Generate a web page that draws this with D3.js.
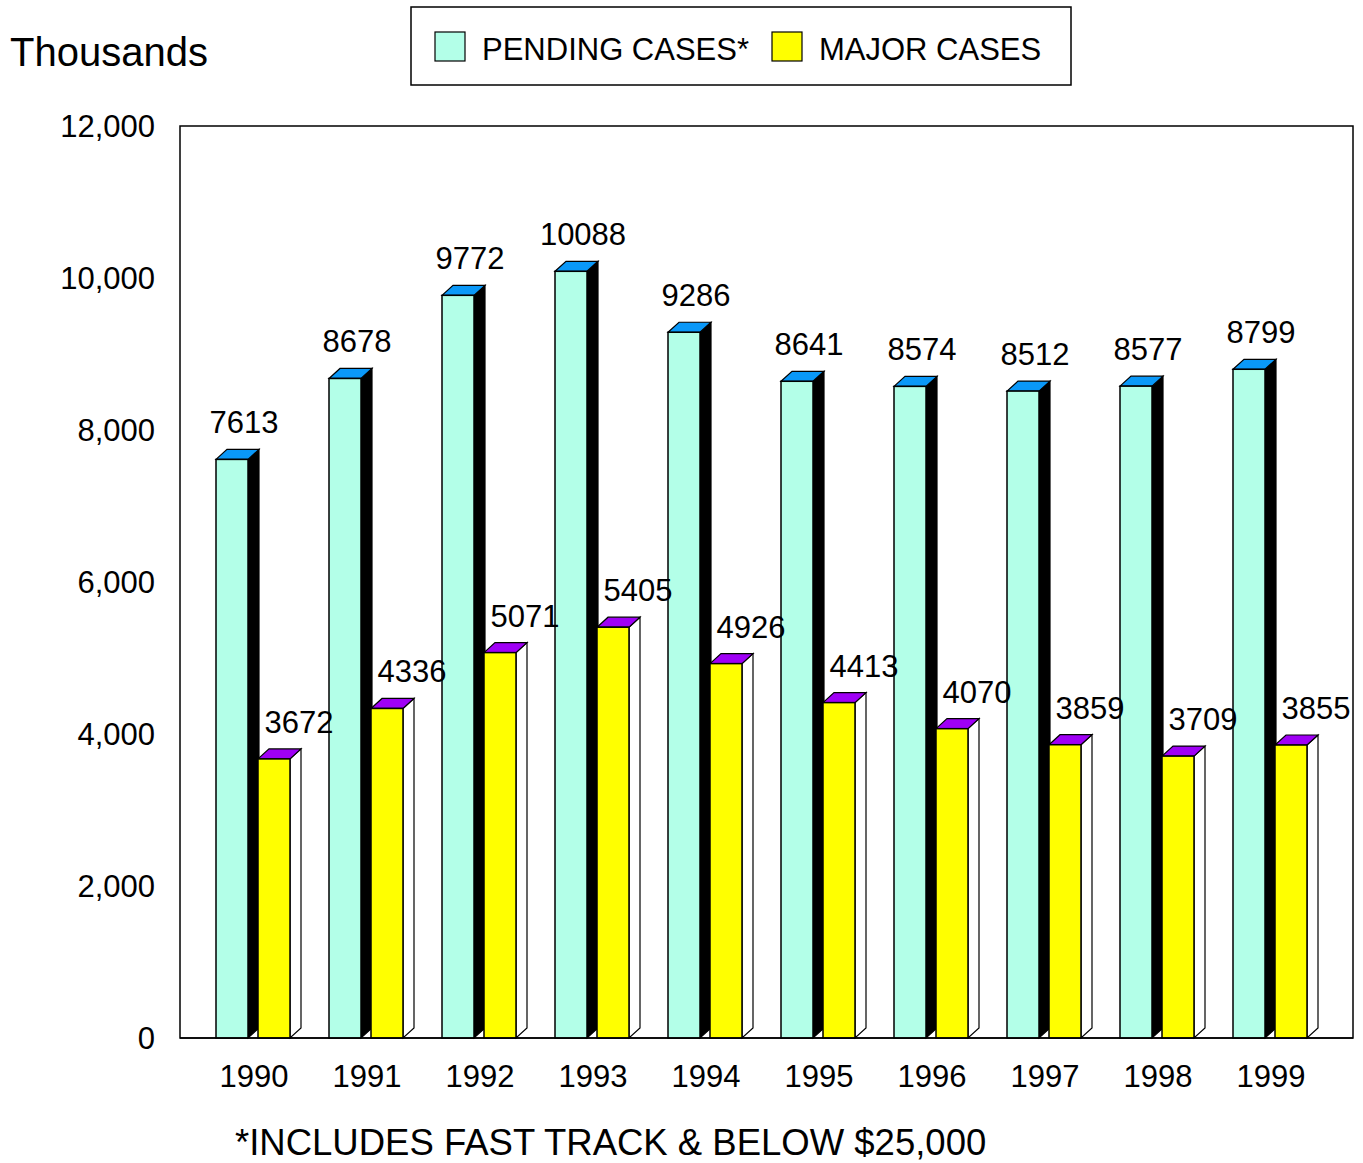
<html>
<head>
<script src="https://d3js.org/d3.v7.min.js"></script>
<style type="text/css">
    body { margin: 0; background: #fff; }
    svg text { font-family: "Liberation Sans", Arial, sans-serif; fill: #000; }
</style>
</head>
<body>
<svg id="chart" width="1363" height="1163" xmlns="http://www.w3.org/2000/svg"></svg>
<script type="text/javascript">
// data
const years = ["1990", "1991", "1992", "1993", "1994", "1995", "1996", "1997", "1998", "1999"];
const pendingCases = [7613, 8678, 9772, 10088, 9286, 8641, 8574, 8512, 8577, 8799];
const majorCases = [3672, 4336, 5071, 5405, 4926, 4413, 4070, 3859, 3709, 3855];
const seriesNames = ["PENDING CASES*", "MAJOR CASES"];
const yTicks = [0, 2000, 4000, 6000, 8000, 10000, 12000];

const svg = d3.select("#chart");

// plot frame
const plotL = 180, plotR = 1353, plotT = 126, plotB = 1038;
const dx = 11, dy = 10;   // 3d depth

const y = d3.scaleLinear().domain([0, 12000]).range([plotB, plotT]);
const x0 = d3.scaleBand().domain(years).range([180, 1310]);
const x1 = d3.scaleBand().domain(["pending", "major"]).range([36, 110]).paddingInner(0.238);

const series = [
    { key: "pending", values: pendingCases, front: "#b3ffe8", side: "#000000", topc: "#0a98f8", lx: 12 },
    { key: "major", values: majorCases, front: "#ffff00", side: "#ffffff", topc: "#9f00f5", lx: 25 }
];

svg.append("rect")
    .attr("x", plotL).attr("y", plotT)
    .attr("width", plotR - plotL).attr("height", plotB - plotT)
    .attr("fill", "none").attr("stroke", "#000").attr("stroke-width", 1.5);

// y axis labels
svg.append("g").selectAll("text")
    .data(yTicks)
    .join("text")
    .attr("x", 155)
    .attr("y", d => y(d) + 11)
    .attr("text-anchor", "end")
    .attr("font-size", 31)
    .text(d => d3.format(",")(d));

svg.append("text")
    .attr("x", 10).attr("y", 66)
    .attr("font-size", 40)
    .text("Thousands");

// bars
series.forEach(s => {
    const g = svg.append("g");
    const w = x1.bandwidth();
    years.forEach((yr, i) => {
        const bx = x0(yr) + x1(s.key);
        const by = y(s.values[i]);
        // side face
        g.append("path")
            .attr("d", `M${bx + w},${by} L${bx + w + dx},${by - dy} L${bx + w + dx},${plotB - dy} L${bx + w},${plotB} Z`)
            .attr("fill", s.side).attr("stroke", "#000").attr("stroke-width", 1.2);
        // top face
        g.append("path")
            .attr("d", `M${bx},${by} L${bx + dx},${by - dy} L${bx + w + dx},${by - dy} L${bx + w},${by} Z`)
            .attr("fill", s.topc).attr("stroke", "#000").attr("stroke-width", 1.2);
        // front face
        g.append("rect")
            .attr("x", bx).attr("y", by)
            .attr("width", w).attr("height", plotB - by)
            .attr("fill", s.front).attr("stroke", "#000").attr("stroke-width", 1.5);
        // value label
        svg.append("text")
            .attr("x", bx + w / 2 + s.lx)
            .attr("y", by - 26)
            .attr("text-anchor", "middle")
            .attr("font-size", 31)
            .text(s.values[i]);
    });
});

// redraw the floor line over bar bottoms
svg.append("line")
    .attr("x1", plotL).attr("x2", plotR)
    .attr("y1", plotB).attr("y2", plotB)
    .attr("stroke", "#000").attr("stroke-width", 1.5);

// x labels
svg.append("g").selectAll("text")
    .data(years)
    .join("text")
    .attr("x", d => x0(d) + 74)
    .attr("y", 1087)
    .attr("text-anchor", "middle")
    .attr("font-size", 31)
    .text(d => d);

// legend
const lg = svg.append("g");
lg.append("rect")
    .attr("x", 411).attr("y", 7).attr("width", 660).attr("height", 78)
    .attr("fill", "#fff").attr("stroke", "#000").attr("stroke-width", 1.5);
const legendX = [435, 772];
seriesNames.forEach((name, i) => {
    lg.append("rect")
        .attr("x", legendX[i]).attr("y", 32).attr("width", 30).attr("height", 29)
        .attr("fill", series[i].front).attr("stroke", "#000").attr("stroke-width", 1.2);
    lg.append("text")
        .attr("x", legendX[i] + 47).attr("y", 60)
        .attr("font-size", 31)
        .text(name);
});

// footnote
svg.append("text")
    .attr("x", 235).attr("y", 1155)
    .attr("font-size", 36.5)
    .text("*INCLUDES FAST TRACK & BELOW $25,000");
</script>
</body>
</html>
